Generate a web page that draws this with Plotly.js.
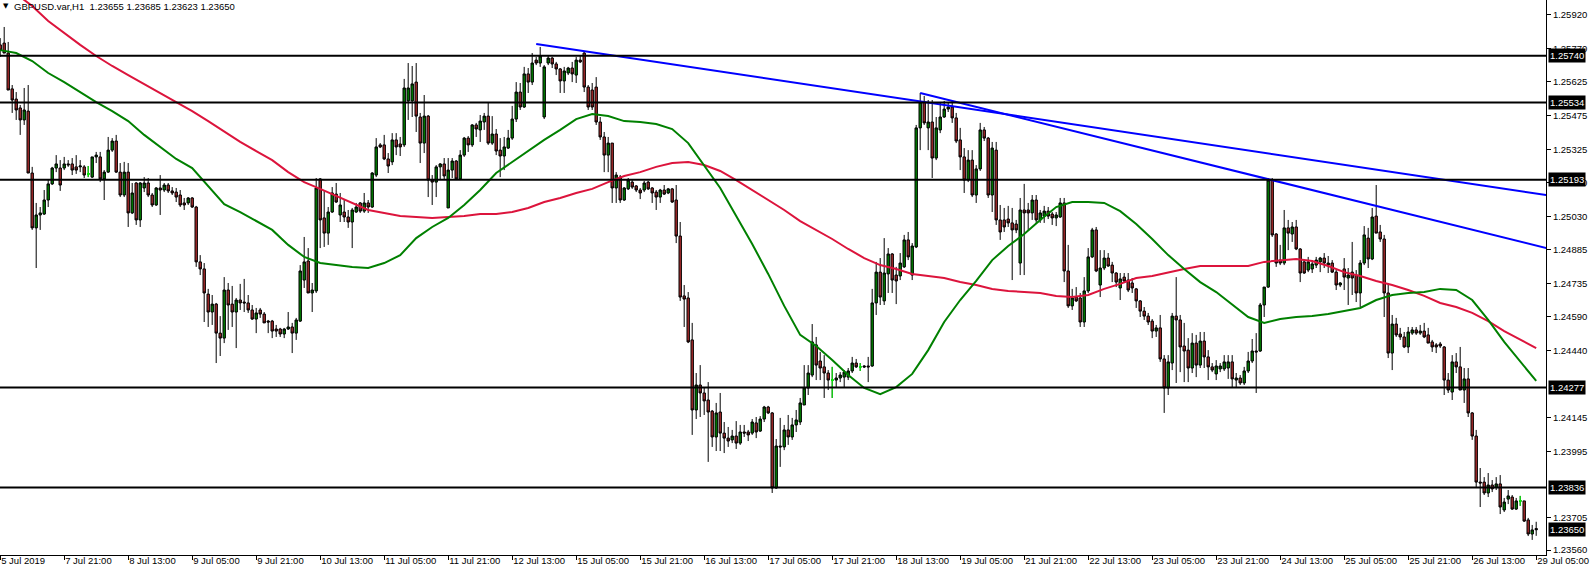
<!DOCTYPE html>
<html><head><meta charset="utf-8">
<script src="https://cdn.plot.ly/plotly-3.0.1.min.js"></script>
<style>html,body{margin:0;padding:0;background:#fff;overflow:hidden}#chart{width:1590px;height:574px}</style>
</head><body><div id="chart"></div>
<script>
const symbol = 'GBPUSD.var,H1';

const openP = [
1.25788,1.25796,1.25752,1.25594,1.25549,1.25510,1.25457,1.25496,1.25223,1.24981,
1.25038,1.25042,1.25104,1.25175,1.25245,1.25245,1.25245,1.25263,1.25263,1.25250,
1.25250,1.25250,1.25219,1.25205,1.25294,1.25294,1.25197,1.25227,1.25324,1.25364,
1.25227,1.25126,1.25227,1.25047,1.25179,1.25016,1.25157,1.25179,1.25126,1.25082,
1.25157,1.25148,1.25170,1.25144,1.25139,1.25126,1.25091,1.25091,1.25113,1.25073,
1.24831,1.24800,1.24689,1.24610,1.24645,1.24517,1.24495,1.24707,1.24645,1.24610,
1.24663,1.24654,1.24650,1.24619,1.24579,1.24619,1.24601,1.24570,1.24570,1.24535,
1.24535,1.24513,1.24535,1.24544,1.24517,1.24570,1.24751,1.24835,1.24694,1.24703,
1.25197,1.25025,1.24958,1.25051,1.25130,1.25038,1.25051,1.25029,1.25007,1.25051,
1.25091,1.25055,1.25091,1.25073,1.25214,1.25347,1.25347,1.25285,1.25272,1.25369,
1.25351,1.25347,1.25541,1.25541,1.25624,1.25470,1.25355,1.25474,1.25192,1.25183,
1.25250,1.25263,1.25069,1.25236,1.25276,1.25197,1.25302,1.25377,1.25347,1.25435,
1.25413,1.25448,1.25474,1.25355,1.25395,1.25324,1.25298,1.25333,1.25377,1.25461,
1.25580,1.25514,1.25660,1.25624,1.25721,1.25708,1.25470,1.25708,1.25730,1.25704,
1.25682,1.25629,1.25664,1.25686,1.25655,1.25721,1.25752,1.25602,1.25589,1.25602,
1.25448,1.25382,1.25302,1.25355,1.25157,1.25205,1.25104,1.25153,1.25183,1.25166,
1.25148,1.25148,1.25183,1.25157,1.25139,1.25117,1.25148,1.25135,1.25153,1.25104,
1.24945,1.24681,1.24672,1.24487,1.24178,1.24288,1.24253,1.24222,1.24173,1.24059,
1.24169,1.24076,1.24054,1.24046,1.24063,1.24032,1.24081,1.24081,1.24076,1.24121,
1.24085,1.24138,1.24191,1.24165,1.23834,1.24019,1.24015,1.24090,1.24059,1.24112,
1.24125,1.24200,1.24275,1.24332,1.24465,1.24394,1.24368,1.24341,1.24310,1.24310,
1.24319,1.24323,1.24323,1.24350,1.24385,1.24368,1.24372,1.24372,1.24372,1.24650,
1.24786,1.24659,1.24778,1.24866,1.24773,1.24769,1.24809,1.24928,1.24773,1.24897,
1.25422,1.25536,1.25422,1.25448,1.25289,1.25413,1.25470,1.25505,1.25514,1.25466,
1.25369,1.25294,1.25192,1.25280,1.25126,1.25241,1.25413,1.25377,1.25126,1.25324,
1.25016,1.25016,1.25020,1.25003,1.24998,1.24826,1.25060,1.25060,1.25047,1.25104,
1.25016,1.25033,1.25055,1.25042,1.25025,1.25029,1.25091,1.24791,1.24637,1.24676,
1.24672,1.24566,1.24703,1.24853,1.24972,1.24729,1.24804,1.24848,1.24817,1.24782,
1.24716,1.24764,1.24751,1.24738,1.24712,1.24659,1.24614,1.24592,1.24570,1.24526,
1.24540,1.24403,1.24275,1.24385,1.24592,1.24575,1.24460,1.24442,1.24363,1.24473,
1.24376,1.24482,1.24412,1.24368,1.24337,1.24359,1.24359,1.24363,1.24390,1.24310,
1.24319,1.24297,1.24350,1.24394,1.24438,1.24438,1.24641,1.24720,1.25192,1.24954,
1.24839,1.24826,1.24981,1.24954,1.24985,1.24888,1.24831,1.24795,1.24800,1.24817,
1.24831,1.24848,1.24817,1.24826,1.24786,1.24729,1.24800,1.24760,1.24786,1.24773,
1.24694,1.24826,1.24936,1.24844,1.25033,1.24963,1.24932,1.24694,1.24429,1.24557,
1.24513,1.24500,1.24456,1.24517,1.24531,1.24517,1.24526,1.24509,1.24478,1.24465,
1.24469,1.24456,1.24310,1.24257,1.24390,1.24368,1.24266,1.24315,1.24165,1.24063,
1.23860,1.23860,1.23812,1.23847,1.23838,1.23852,1.23737,1.23785,1.23794,1.23741,
1.23777,1.23777,1.23693,1.23631,1.23655];

const highP = [
1.25818,1.25867,1.25801,1.25611,1.25580,1.25523,1.25598,1.25611,1.25250,1.25091,
1.25073,1.25148,1.25192,1.25250,1.25302,1.25280,1.25294,1.25280,1.25289,1.25302,
1.25280,1.25258,1.25254,1.25294,1.25316,1.25316,1.25236,1.25382,1.25377,1.25391,
1.25267,1.25272,1.25267,1.25179,1.25183,1.25183,1.25205,1.25201,1.25135,1.25161,
1.25214,1.25179,1.25179,1.25161,1.25157,1.25148,1.25113,1.25117,1.25117,1.25078,
1.24861,1.24826,1.24712,1.24685,1.24650,1.24592,1.24764,1.24738,1.24725,1.24672,
1.24734,1.24756,1.24685,1.24641,1.24628,1.24628,1.24610,1.24575,1.24575,1.24553,
1.24540,1.24540,1.24610,1.24562,1.24584,1.24817,1.24941,1.24892,1.24738,1.25201,
1.25201,1.25148,1.25073,1.25161,1.25179,1.25135,1.25104,1.25060,1.25069,1.25091,
1.25095,1.25135,1.25104,1.25227,1.25377,1.25355,1.25391,1.25311,1.25399,1.25399,
1.25382,1.25638,1.25708,1.25695,1.25708,1.25488,1.25567,1.25479,1.25214,1.25258,
1.25267,1.25289,1.25289,1.25289,1.25280,1.25324,1.25382,1.25386,1.25439,1.25444,
1.25479,1.25488,1.25532,1.25474,1.25417,1.25377,1.25382,1.25413,1.25519,1.25624,
1.25620,1.25691,1.25686,1.25752,1.25735,1.25779,1.25699,1.25743,1.25735,1.25713,
1.25686,1.25691,1.25691,1.25713,1.25735,1.25743,1.25757,1.25611,1.25620,1.25646,
1.25470,1.25404,1.25382,1.25355,1.25227,1.25214,1.25161,1.25201,1.25192,1.25170,
1.25157,1.25188,1.25188,1.25161,1.25148,1.25153,1.25170,1.25157,1.25157,1.25170,
1.25007,1.24729,1.24698,1.24562,1.24341,1.24376,1.24275,1.24301,1.24178,1.24209,
1.24253,1.24125,1.24103,1.24090,1.24129,1.24112,1.24112,1.24090,1.24138,1.24147,
1.24151,1.24196,1.24196,1.24169,1.24050,1.24143,1.24112,1.24156,1.24143,1.24178,
1.24231,1.24376,1.24376,1.24557,1.24500,1.24434,1.24420,1.24354,1.24368,1.24341,
1.24345,1.24354,1.24363,1.24412,1.24403,1.24385,1.24376,1.24412,1.24712,1.24831,
1.24848,1.24936,1.24892,1.24870,1.24809,1.24870,1.24950,1.24963,1.24914,1.25435,
1.25576,1.25563,1.25545,1.25545,1.25470,1.25536,1.25541,1.25532,1.25541,1.25488,
1.25422,1.25333,1.25324,1.25324,1.25258,1.25444,1.25426,1.25382,1.25360,1.25360,
1.25082,1.25069,1.25078,1.25069,1.25016,1.25113,1.25175,1.25091,1.25126,1.25126,
1.25060,1.25078,1.25073,1.25051,1.25051,1.25113,1.25113,1.24906,1.24712,1.24720,
1.24694,1.24764,1.24892,1.24981,1.24985,1.24883,1.24883,1.24870,1.24831,1.24786,
1.24782,1.24782,1.24782,1.24760,1.24716,1.24663,1.24632,1.24606,1.24579,1.24553,
1.24597,1.24420,1.24420,1.24606,1.24764,1.24597,1.24562,1.24495,1.24517,1.24509,
1.24522,1.24522,1.24442,1.24385,1.24398,1.24385,1.24420,1.24420,1.24420,1.24341,
1.24332,1.24368,1.24434,1.24491,1.24517,1.24650,1.24720,1.25201,1.25201,1.24958,
1.24906,1.25060,1.25016,1.25007,1.25016,1.24892,1.24839,1.24853,1.24839,1.24853,
1.24853,1.24870,1.24857,1.24839,1.24795,1.24742,1.24848,1.24804,1.24919,1.24795,
1.24839,1.24989,1.24981,1.25069,1.25170,1.24994,1.24950,1.24738,1.24597,1.24584,
1.24540,1.24522,1.24544,1.24544,1.24544,1.24553,1.24562,1.24540,1.24487,1.24473,
1.24478,1.24460,1.24341,1.24420,1.24429,1.24456,1.24363,1.24363,1.24169,1.24090,
1.23922,1.23882,1.23900,1.23869,1.23882,1.23891,1.23790,1.23825,1.23803,1.23790,
1.23799,1.23777,1.23702,1.23671,1.23685];

const lowP = [
1.25735,1.25752,1.25589,1.25488,1.25457,1.25391,1.25435,1.25223,1.24972,1.24804,
1.24972,1.25038,1.25073,1.25170,1.25227,1.25144,1.25236,1.25250,1.25214,1.25219,
1.25227,1.25201,1.25205,1.25201,1.25267,1.25183,1.25104,1.25223,1.25316,1.25223,
1.25117,1.25117,1.24985,1.25042,1.24994,1.24985,1.25139,1.25117,1.25073,1.25078,
1.25038,1.25139,1.25135,1.25126,1.25095,1.25073,1.25060,1.25082,1.25069,1.24809,
1.24773,1.24566,1.24544,1.24553,1.24385,1.24416,1.24473,1.24531,1.24544,1.24451,
1.24619,1.24610,1.24606,1.24575,1.24517,1.24584,1.24562,1.24517,1.24495,1.24500,
1.24500,1.24495,1.24531,1.24429,1.24487,1.24566,1.24716,1.24694,1.24610,1.24694,
1.24892,1.24897,1.24906,1.25047,1.25091,1.25007,1.25007,1.24981,1.24892,1.25047,
1.25047,1.25047,1.25047,1.25069,1.25205,1.25333,1.25280,1.25223,1.25258,1.25302,
1.25298,1.25338,1.25457,1.25470,1.25404,1.25267,1.25311,1.25117,1.25082,1.25117,
1.25192,1.25192,1.25069,1.25201,1.25192,1.25192,1.25294,1.25316,1.25338,1.25382,
1.25360,1.25413,1.25347,1.25347,1.25302,1.25205,1.25236,1.25329,1.25369,1.25448,
1.25501,1.25510,1.25576,1.25611,1.25699,1.25691,1.25461,1.25699,1.25686,1.25655,
1.25576,1.25576,1.25655,1.25624,1.25620,1.25708,1.25580,1.25501,1.25501,1.25435,
1.25369,1.25227,1.25227,1.25091,1.25091,1.25091,1.25100,1.25148,1.25153,1.25139,
1.25108,1.25139,1.25148,1.25091,1.25060,1.25091,1.25126,1.25130,1.25091,1.24914,
1.24659,1.24544,1.24473,1.24068,1.24138,1.24147,1.24156,1.23949,1.24015,1.23997,
1.23997,1.23988,1.24015,1.24032,1.24006,1.24024,1.24059,1.24041,1.24068,1.24054,
1.24081,1.24125,1.24160,1.23812,1.23830,1.23927,1.24001,1.24024,1.24046,1.24081,
1.24112,1.24200,1.24244,1.24323,1.24310,1.24310,1.24231,1.24266,1.24231,1.24275,
1.24301,1.24275,1.24310,1.24341,1.24363,1.24350,1.24363,1.24301,1.24368,1.24597,
1.24641,1.24641,1.24694,1.24694,1.24645,1.24751,1.24804,1.24839,1.24751,1.24892,
1.25324,1.25435,1.25324,1.25201,1.25280,1.25399,1.25466,1.25492,1.25444,1.25355,
1.25236,1.25135,1.25183,1.25117,1.25091,1.25232,1.25364,1.25113,1.25051,1.24994,
1.24928,1.24963,1.24985,1.24751,1.24958,1.24773,1.24773,1.24972,1.25016,1.25003,
1.25003,1.25003,1.25020,1.24994,1.24989,1.25025,1.24742,1.24628,1.24619,1.24654,
1.24544,1.24544,1.24694,1.24848,1.24786,1.24676,1.24795,1.24809,1.24742,1.24720,
1.24663,1.24738,1.24698,1.24694,1.24628,1.24588,1.24575,1.24553,1.24495,1.24500,
1.24390,1.24165,1.24244,1.24354,1.24297,1.24345,1.24301,1.24301,1.24341,1.24323,
1.24363,1.24363,1.24310,1.24345,1.24310,1.24345,1.24350,1.24315,1.24279,1.24279,
1.24288,1.24288,1.24341,1.24385,1.24253,1.24434,1.24588,1.24716,1.24941,1.24809,
1.24817,1.24817,1.24883,1.24919,1.24883,1.24742,1.24778,1.24786,1.24782,1.24804,
1.24786,1.24804,1.24782,1.24782,1.24707,1.24720,1.24707,1.24641,1.24685,1.24654,
1.24632,1.24817,1.24804,1.24839,1.24958,1.24919,1.24588,1.24407,1.24354,1.24500,
1.24487,1.24451,1.24429,1.24509,1.24509,1.24509,1.24495,1.24473,1.24434,1.24429,
1.24451,1.24244,1.24253,1.24222,1.24341,1.24266,1.24209,1.24147,1.24046,1.23838,
1.23750,1.23803,1.23794,1.23816,1.23825,1.23719,1.23728,1.23763,1.23737,1.23737,
1.23755,1.23684,1.23622,1.23605,1.23623];

const closeP = [
1.25765,1.25752,1.25589,1.25545,1.25501,1.25457,1.25501,1.25223,1.24981,1.25038,
1.25047,1.25104,1.25175,1.25245,1.25263,1.25170,1.25263,1.25259,1.25236,1.25236,
1.25254,1.25214,1.25219,1.25294,1.25302,1.25197,1.25227,1.25324,1.25364,1.25227,
1.25126,1.25227,1.25047,1.25135,1.25016,1.25179,1.25179,1.25126,1.25082,1.25157,
1.25148,1.25170,1.25144,1.25135,1.25117,1.25082,1.25082,1.25113,1.25073,1.24831,
1.24800,1.24694,1.24610,1.24645,1.24517,1.24495,1.24707,1.24641,1.24610,1.24663,
1.24650,1.24650,1.24619,1.24579,1.24606,1.24601,1.24562,1.24566,1.24526,1.24526,
1.24513,1.24535,1.24544,1.24517,1.24575,1.24791,1.24831,1.24694,1.24707,1.25157,
1.25016,1.24958,1.25051,1.25135,1.25095,1.25082,1.25029,1.25007,1.25060,1.25073,
1.25055,1.25091,1.25073,1.25223,1.25338,1.25338,1.25285,1.25254,1.25369,1.25338,
1.25338,1.25598,1.25598,1.25616,1.25474,1.25355,1.25474,1.25192,1.25183,1.25250,
1.25263,1.25210,1.25236,1.25276,1.25197,1.25302,1.25377,1.25347,1.25435,1.25417,
1.25452,1.25474,1.25355,1.25395,1.25320,1.25298,1.25338,1.25377,1.25461,1.25580,
1.25514,1.25660,1.25624,1.25708,1.25708,1.25739,1.25691,1.25730,1.25704,1.25682,
1.25629,1.25673,1.25686,1.25660,1.25721,1.25713,1.25602,1.25514,1.25514,1.25448,
1.25382,1.25302,1.25355,1.25157,1.25214,1.25104,1.25157,1.25192,1.25161,1.25148,
1.25135,1.25179,1.25153,1.25135,1.25117,1.25148,1.25130,1.25153,1.25095,1.24945,
1.24676,1.24667,1.24478,1.24178,1.24288,1.24253,1.24218,1.24169,1.24059,1.24165,
1.24076,1.24054,1.24041,1.24063,1.24032,1.24081,1.24076,1.24068,1.24125,1.24081,
1.24138,1.24191,1.24165,1.23834,1.24019,1.24015,1.24090,1.24059,1.24112,1.24134,
1.24209,1.24275,1.24341,1.24478,1.24376,1.24363,1.24341,1.24310,1.24310,1.24319,
1.24332,1.24345,1.24350,1.24385,1.24368,1.24368,1.24368,1.24368,1.24650,1.24786,
1.24676,1.24782,1.24866,1.24751,1.24747,1.24826,1.24928,1.24853,1.24901,1.25422,
1.25536,1.25444,1.25448,1.25289,1.25422,1.25470,1.25505,1.25514,1.25466,1.25364,
1.25294,1.25192,1.25280,1.25126,1.25241,1.25413,1.25377,1.25126,1.25333,1.25016,
1.24963,1.24985,1.25003,1.24972,1.24972,1.25060,1.25047,1.25047,1.25104,1.25016,
1.25047,1.25055,1.25033,1.25025,1.25038,1.25091,1.24791,1.24637,1.24672,1.24659,
1.24566,1.24703,1.24853,1.24972,1.24791,1.24804,1.24848,1.24813,1.24782,1.24742,
1.24756,1.24747,1.24707,1.24716,1.24659,1.24614,1.24592,1.24566,1.24526,1.24540,
1.24403,1.24275,1.24390,1.24592,1.24575,1.24456,1.24438,1.24363,1.24473,1.24376,
1.24482,1.24412,1.24368,1.24354,1.24372,1.24372,1.24390,1.24390,1.24315,1.24319,
1.24297,1.24350,1.24394,1.24438,1.24434,1.24641,1.24720,1.25192,1.24950,1.24826,
1.24826,1.24981,1.24958,1.24985,1.24888,1.24782,1.24782,1.24831,1.24822,1.24839,
1.24848,1.24826,1.24826,1.24786,1.24729,1.24738,1.24764,1.24773,1.24760,1.24694,
1.24826,1.24950,1.24844,1.25029,1.24958,1.24932,1.24694,1.24429,1.24557,1.24509,
1.24500,1.24456,1.24522,1.24531,1.24517,1.24526,1.24500,1.24473,1.24456,1.24456,
1.24460,1.24310,1.24266,1.24390,1.24368,1.24266,1.24315,1.24165,1.24063,1.23860,
1.23856,1.23812,1.23847,1.23830,1.23852,1.23750,1.23772,1.23799,1.23741,1.23777,
1.23777,1.23688,1.23631,1.23649,1.23650];

// one tick label every 16 hourly bars, starting at the first bar
const timeLabels = ['5 Jul 2019','7 Jul 21:00','8 Jul 13:00','9 Jul 05:00','9 Jul 21:00',
 '10 Jul 13:00','11 Jul 05:00','11 Jul 21:00','12 Jul 13:00','15 Jul 05:00','15 Jul 21:00',
 '16 Jul 13:00','17 Jul 05:00','17 Jul 21:00','18 Jul 13:00','19 Jul 05:00','21 Jul 21:00',
 '22 Jul 13:00','23 Jul 05:00','23 Jul 21:00','24 Jul 13:00','25 Jul 05:00','25 Jul 21:00',
 '26 Jul 13:00','29 Jul 05:00'];
const barsPerLabel = 16;

// moving averages, read every 4th bar
const maStep = 4;
const maGreen = [
1.25765,1.25752,1.25717,1.25664,1.25624,1.25580,1.25536,1.25496,1.25452,1.25391,
1.25338,1.25285,1.25245,1.25166,1.25086,1.25051,1.25011,1.24972,1.24906,1.24853,
1.24826,1.24817,1.24809,1.24804,1.24826,1.24861,1.24936,1.24985,1.25025,1.25082,
1.25148,1.25223,1.25272,1.25320,1.25369,1.25413,1.25461,1.25483,1.25474,1.25452,
1.25448,1.25439,1.25417,1.25355,1.25258,1.25157,1.25033,1.24910,1.24778,1.24637,
1.24509,1.24460,1.24398,1.24332,1.24275,1.24248,1.24279,1.24337,1.24442,1.24566,
1.24663,1.24747,1.24839,1.24901,1.24954,1.25016,1.25073,1.25095,1.25095,1.25091,
1.25055,1.24998,1.24932,1.24861,1.24800,1.24742,1.24698,1.24645,1.24588,1.24562,
1.24579,1.24588,1.24592,1.24601,1.24614,1.24628,1.24663,1.24685,1.24694,1.24698,
1.24712,1.24707,1.24663,1.24575,1.24478,1.24394,1.24306];
const maRed = [
1.26065,1.26012,1.25960,1.25893,1.25840,1.25788,1.25739,1.25695,1.25655,1.25616,
1.25576,1.25536,1.25496,1.25452,1.25404,1.25360,1.25320,1.25280,1.25227,1.25183,
1.25153,1.25122,1.25091,1.25060,1.25047,1.25033,1.25029,1.25025,1.25029,1.25033,
1.25042,1.25042,1.25051,1.25069,1.25095,1.25113,1.25135,1.25153,1.25183,1.25210,
1.25227,1.25250,1.25267,1.25272,1.25258,1.25232,1.25192,1.25148,1.25104,1.25060,
1.25011,1.24972,1.24932,1.24888,1.24848,1.24817,1.24800,1.24778,1.24769,1.24760,
1.24742,1.24729,1.24712,1.24703,1.24698,1.24694,1.24681,1.24676,1.24685,1.24712,
1.24734,1.24760,1.24769,1.24786,1.24800,1.24813,1.24813,1.24813,1.24813,1.24831,
1.24839,1.24844,1.24835,1.24813,1.24786,1.24769,1.24747,1.24729,1.24707,1.24681,
1.24650,1.24632,1.24606,1.24570,1.24526,1.24487,1.24451];

// horizontal support / resistance levels
const levels = [1.25740, 1.25534, 1.25193, 1.24277, 1.23836];
// trend lines: [start bar, end bar] and [start price, end price]
const trendBars = [[134, 390], [230, 390]];
const trendPrices = [[1.25792, 1.25117], [1.25576, 1.24877]];
// price scale labels (those fully hidden behind the level boxes are left out)
const yTicks = [1.25920,1.25770,1.25625,1.25475,1.25325,1.25180,1.25030,1.24885,1.24735,
 1.24590,1.24440,1.24145,1.23995,1.23705,1.23560];

const FONT = 'Liberation Sans, Arial, sans-serif';
const n = openP.length;
const idx = Array.from({length: n}, (_, i) => i);
const last = n - 1;

const traces = [];
traces.push({
  type: 'candlestick', x: idx, open: openP, high: highP, low: lowP, close: closeP,
  increasing: {line: {color: '#000000', width: 1}, fillcolor: '#008000'},
  decreasing: {line: {color: '#000000', width: 1}, fillcolor: '#a52a2a'},
  whiskerwidth: 0, hoverinfo: 'skip', showlegend: false
});
const doji = idx.filter(i => openP[i] === closeP[i]);
traces.push({
  type: 'candlestick', x: doji,
  open: doji.map(i => openP[i]), high: doji.map(i => highP[i]),
  low: doji.map(i => lowP[i]), close: doji.map(i => closeP[i]),
  increasing: {line: {color: '#00ff00', width: 1}, fillcolor: '#00ff00'},
  decreasing: {line: {color: '#00ff00', width: 1}, fillcolor: '#00ff00'},
  whiskerwidth: 0, hoverinfo: 'skip', showlegend: false
});
traces.push({type: 'scatter', mode: 'lines', x: maRed.map((_, k) => k * maStep), y: maRed,
  line: {color: '#dc143c', width: 2}, hoverinfo: 'skip', showlegend: false});
traces.push({type: 'scatter', mode: 'lines', x: maGreen.map((_, k) => k * maStep), y: maGreen,
  line: {color: '#008000', width: 2}, hoverinfo: 'skip', showlegend: false});
trendBars.forEach((b, t) => traces.push({type: 'scatter', mode: 'lines', x: b, y: trendPrices[t],
  line: {color: '#0000ff', width: 2}, hoverinfo: 'skip', showlegend: false}));

const shapes = levels.map(v => ({type: 'line', xref: 'paper', x0: 0, x1: 1, yref: 'y', y0: v, y1: v,
  line: {color: '#000000', width: 2}, layer: 'above'}));

const boxLabel = v => ({xref: 'paper', x: 1, xanchor: 'left', xshift: 2, yref: 'y', y: v, yanchor: 'middle',
  text: v.toFixed(5), showarrow: false, bgcolor: '#000000', borderpad: 1,
  font: {family: FONT, size: 9.5, color: '#ffffff'}});
const annotations = levels.map(boxLabel);
annotations.push(boxLabel(closeP[last]));
annotations.push({xref: 'paper', x: 0, xanchor: 'left', xshift: 13, yref: 'paper', y: 1, yanchor: 'top',
  text: symbol + '\u00a0\u00a0' + [openP[last], highP[last], lowP[last], closeP[last]].map(v => v.toFixed(5)).join(' '),
  showarrow: false, borderpad: 0, font: {family: FONT, size: 9.5, color: '#000000'}});
annotations.push({xref: 'paper', x: 0, xanchor: 'left', xshift: 2, yref: 'paper', y: 1, yanchor: 'top', yshift: -1,
  text: '\u25BC', showarrow: false, borderpad: 0, font: {family: 'DejaVu Sans', size: 7, color: '#000000'}});

const pxTop = 1.25986, pricePerPx = 0.0000441, plotH = 555;
const layout = {
  width: 1590, height: 574,
  margin: {l: 0, r: 44, t: 0, b: 574 - plotH, pad: 0},
  paper_bgcolor: '#ffffff', plot_bgcolor: '#ffffff',
  showlegend: false, hovermode: false, boxgap: 0.4, boxgroupgap: 0,
  xaxis: {
    type: 'linear', range: [-0.05, 386.45], rangeslider: {visible: false},
    showgrid: false, zeroline: false, showline: true, linecolor: '#000000', linewidth: 1,
    ticks: 'outside', ticklen: 4, tickcolor: '#000000', tickwidth: 1,
    tickvals: timeLabels.map((_, k) => k * barsPerLabel), ticktext: timeLabels,
    ticklabelposition: 'outside right', ticklabelstandoff: -3,
    tickfont: {family: FONT, size: 9.5, color: '#000000'}, fixedrange: true
  },
  yaxis: {
    side: 'right', range: [pxTop - pricePerPx * plotH, pxTop],
    showgrid: false, zeroline: false, showline: true, linecolor: '#000000', linewidth: 1,
    ticks: 'outside', ticklen: 4, tickcolor: '#000000', tickwidth: 1,
    tickvals: yTicks, tickformat: '.5f',
    tickfont: {family: FONT, size: 9.5, color: '#000000'}, fixedrange: true
  },
  shapes: shapes, annotations: annotations
};
Plotly.newPlot('chart', traces, layout, {displayModeBar: false, staticPlot: true});
</script></body></html>
